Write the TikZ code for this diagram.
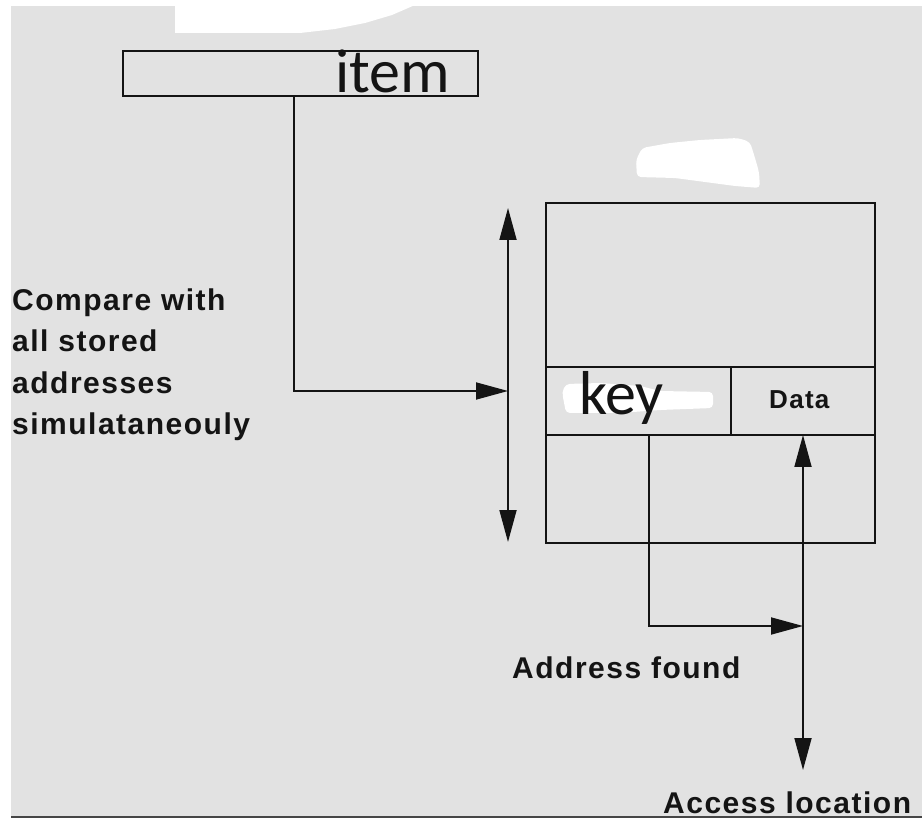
\documentclass[tikz,border=0pt]{standalone}
\usepackage{fontspec}
\usetikzlibrary{arrows.meta}
\newfontfamily\lab[LetterSpace=5]{Liberation Sans}
\newfontfamily\carl{Carlito}
\definecolor{bg}{RGB}{226,226,226}
\definecolor{ink}{RGB}{20,20,20}
\definecolor{rule}{RGB}{70,70,70}
\begin{document}
\begin{tikzpicture}[x=1pt,y=-1pt,
  line/.style={draw=ink, line width=1.8pt},
  cell/.style={draw=ink, line width=1.8pt, inner sep=0pt, outer sep=0pt},
  tip/.style={-{Triangle[length=32pt,width=17pt]}},
  tipboth/.style={{Triangle[length=32pt,width=17pt]}-{Triangle[length=32pt,width=17pt]}},
  lbl/.style={anchor=base west, inner sep=0pt, text=ink, font=\lab\bfseries\fontsize{30}{41.5}\selectfont},
  big/.style={anchor=base west, inner sep=0pt, text=ink, font=\carl\fontsize{62}{62}\selectfont},
  blob/.style={fill=white, draw=none}
]
\useasboundingbox (0,0) rectangle (922,818);
% background
\fill[white] (0,0) rectangle (922,818);
\fill[bg] (11,6) rectangle (922,816);
\fill[rule] (11,816) rectangle (922,818);
% white patches
\fill[blob] (175,0) -- (175,33) -- (300,33) -- (335,29) -- (365,23) -- (392,15) -- (415,5) -- (415,0) -- cycle;
\fill[blob, rounded corners=4pt] (642,148) -- (670,143) -- (700,140) -- (738,138) -- (750,142) -- (755,158) -- (759,172) -- (760,188) -- (735,186) -- (705,182) -- (675,178) -- (637,177) -- (636,160) -- cycle;
\fill[blob, rounded corners=4pt] (562,392) -- (566,384) -- (600,383) -- (640,386) -- (660,391) -- (713,392) -- (713,408) -- (660,410) -- (620,413) -- (566,413) -- cycle;

% item box
\node[cell, minimum width=355pt, minimum height=45pt] (itembox) at (300.5,73.5) {};
\node[big] (itemtxt) at (335,93) {item};

% memory table
\node[cell, minimum width=329pt, minimum height=164pt] (topcell) at (710.5,285) {};
\node[cell, minimum width=185pt, minimum height=68pt] (keycell) at (638.5,401) {};
\node[cell, minimum width=144pt, minimum height=68pt] (datacell) at (803,401) {};
\node[cell, minimum width=329pt, minimum height=108pt] (botcell) at (710.5,489) {};
\node[big] (keytxt) at (579,415) {key};
\node[lbl, font=\lab\bfseries\fontsize{26}{30}\selectfont] (datatxt) at (769,409) {Data};

% coordinates
\coordinate (dropx) at (294,0);
\coordinate (bustop) at (508,208);
\coordinate (busbot) at (508,542);
\coordinate (busin) at (508,391);
\coordinate (keyx) at (649,0);
\coordinate (join) at (803,626);
\coordinate (acc) at (803,770);

% connectors
\draw[line, tipboth] (bustop) -- (busbot);
\draw[line, tip] (itembox.south -| dropx) |- (busin);
\draw[line, tip] (keycell.south -| keyx) |- (join);
\draw[line, tipboth] (datacell.south) -- (acc);

% labels (base anchor of a multi-line node is the last line)
\node[lbl, align=left] (cmp) at (12,435) {Compare with\\all stored\\addresses\\simulataneouly};
\node[lbl] (found) at (512,678) {Address found};
\node[lbl] (acctxt) at (663,813) {Access location};
\end{tikzpicture}
\end{document}
